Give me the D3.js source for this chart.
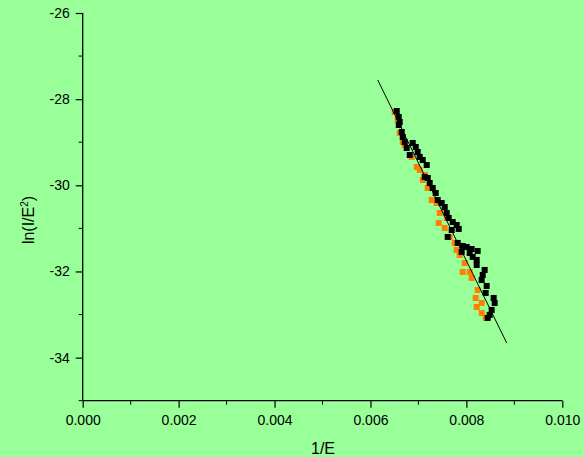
<!DOCTYPE html>
<html><head><meta charset="utf-8">
<script src="https://cdn.jsdelivr.net/npm/d3@7"></script>
<style>html,body{margin:0;padding:0;background:#99ff99;}svg{display:block;}</style>
</head><body>
<script>
const blackX = [0.006548,0.006590,0.006610,0.006590,0.006652,0.006673,0.006715,0.006756,0.006819,0.006881,0.006944,0.006985,0.007027,0.007090,0.007173,0.007131,0.007194,0.007235,0.007298,0.007360,0.007402,0.007485,0.007548,0.007590,0.007631,0.007715,0.007798,0.007840,0.007694,0.007610,0.007819,0.007923,0.008006,0.008110,0.008235,0.007902,0.008069,0.008131,0.008215,0.008215,0.008381,0.008340,0.008319,0.008423,0.008402,0.008569,0.008590,0.008527,0.008485,0.008444];
const blackY = [-28.275,-28.414,-28.530,-28.600,-28.762,-28.878,-28.994,-29.133,-29.296,-29.017,-29.110,-29.226,-29.342,-29.412,-29.528,-29.806,-29.830,-29.946,-30.062,-30.178,-30.340,-30.410,-30.503,-30.642,-30.758,-30.851,-30.921,-31.013,-31.037,-31.199,-31.338,-31.408,-31.431,-31.478,-31.524,-31.547,-31.570,-31.663,-31.733,-31.849,-31.965,-32.081,-32.197,-32.336,-32.499,-32.615,-32.731,-32.893,-33.009,-33.079];
const orangeX = [0.006506,0.006569,0.006610,0.006673,0.006715,0.006860,0.006965,0.007027,0.007090,0.007131,0.007194,0.007277,0.007381,0.007444,0.007423,0.007548,0.007590,0.007652,0.007756,0.007798,0.007860,0.007965,0.007923,0.008069,0.008110,0.008235,0.008194,0.008215,0.008319,0.008319,0.008402];
const orangeY = [-28.298,-28.484,-28.785,-28.994,-29.063,-29.342,-29.574,-29.644,-29.876,-29.760,-30.062,-30.340,-30.410,-30.642,-30.874,-30.990,-30.758,-31.199,-31.338,-31.501,-31.617,-31.803,-32.012,-32.012,-32.151,-32.430,-32.615,-32.824,-32.731,-32.963,-33.079];
const fitX = [0.006152, 0.008840];
const fitY = [-27.555, -33.657];
const xTicks = [0,0.002,0.004,0.006,0.008,0.010];
const xMinor = [0.001,0.003,0.005,0.007,0.009];
const yTicks = [-26,-28,-30,-32,-34];
const yMinor = [-27,-29,-31,-33,-35];

const W=584,H=457;
const FONT="'Liberation Sans', Arial, sans-serif";
const svg=d3.select("body").append("svg").attr("width",W).attr("height",H)
  .style("font-family",FONT);
svg.append("rect").attr("width",W).attr("height",H).attr("fill","#99ff99");
const x=d3.scaleLinear().domain([0,0.010]).range([82.7,562.3]);
const y=d3.scaleLinear().domain([-35,-26]).range([400.7,13]);

const xAxis=svg.append("g").attr("transform","translate(0,400.7)")
  .call(d3.axisBottom(x).tickValues(xTicks).tickFormat(d3.format(".3f")).tickSize(7).tickPadding(7));
xAxis.append("g").selectAll("line").data(xMinor).join("line")
  .attr("x1",d=>x(d)).attr("x2",d=>x(d)).attr("y1",0).attr("y2",4).attr("stroke","#000");
const yAxis=svg.append("g").attr("transform","translate(82.7,0)")
  .call(d3.axisLeft(y).tickValues(yTicks).tickFormat(d=>String(d)).tickSize(7).tickPadding(6));
yAxis.append("g").selectAll("line").data(yMinor).join("line")
  .attr("y1",d=>y(d)).attr("y2",d=>y(d)).attr("x1",0).attr("x2",-4).attr("stroke","#000");
[xAxis,yAxis].forEach(g=>{
  g.select(".domain").attr("stroke","#000").attr("stroke-width",1.3);
  g.selectAll(".tick line").attr("stroke","#000").attr("stroke-width",1.2);
  g.selectAll("text").attr("font-size",14).attr("fill","#000").style("font-family",FONT);
});
xAxis.select(".domain").attr("d","M82.7,0H562.3");
yAxis.select(".domain").attr("d","M0,13V400.7");

svg.append("text").attr("x",323).attr("y",454).attr("text-anchor","middle").attr("font-size",16).text("1/E");
const yl=svg.append("text").attr("transform","translate(34,220) rotate(-90)").attr("text-anchor","middle").attr("font-size",16);
yl.append("tspan").text("ln(I/E");
yl.append("tspan").attr("font-size",10).attr("dy",-6).text("2");
yl.append("tspan").attr("dy",6).text(")");

const s=6;
svg.append("g").selectAll("rect").data(orangeX.map((d,i)=>[d,orangeY[i]])).join("rect")
  .attr("x",d=>x(d[0])-s/2).attr("y",d=>y(d[1])-s/2).attr("width",s).attr("height",s).attr("fill","#ff8000");
svg.append("g").selectAll("rect").data(blackX.map((d,i)=>[d,blackY[i]])).join("rect")
  .attr("x",d=>x(d[0])-s/2).attr("y",d=>y(d[1])-s/2).attr("width",s).attr("height",s).attr("fill","#000");
svg.append("line").attr("x1",x(fitX[0])).attr("y1",y(fitY[0])).attr("x2",x(fitX[1])).attr("y2",y(fitY[1]))
  .attr("stroke","#000").attr("stroke-width",1);
</script>
</body></html>
